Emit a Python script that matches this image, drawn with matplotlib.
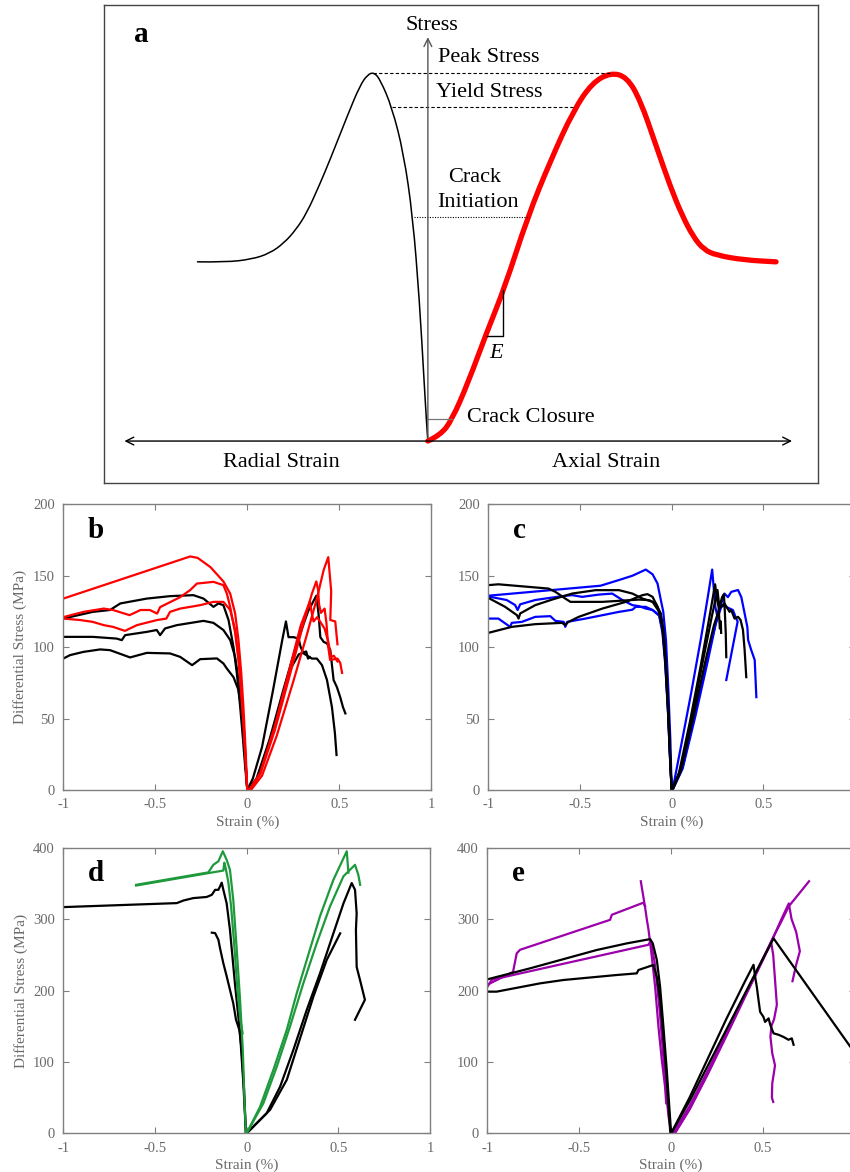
import numpy as np
import matplotlib
matplotlib.use("Agg")
import matplotlib.pyplot as plt
from matplotlib.path import Path
from matplotlib.patches import PathPatch

plt.rcParams['font.family'] = ['Liberation Serif', 'DejaVu Serif']
plt.rcParams['axes.unicode_minus'] = False

# ---- schematic (a): arbitrary strain / stress units, peak stress = 100
sk_radial = [(-62.6, 48.7), (-55.0, 48.6), (-47.9, 49.4), (-43.0, 51.0), (-39.1, 53.8),
             (-35.8, 57.5), (-32.9, 62.0), (-29.5, 69.5), (-26.6, 76.4), (-21.6, 89.1),
             (-18.5, 96.5), (-16.4, 99.6), (-14.6, 100.2), (-12.9, 98.1), (-9.8, 90.8),
             (-6.6, 78.3), (-4.1, 60.9), (-2.3, 38.3), (-1.0, 15.8), (-0.3, 4.0), (0.0, 0.0)]
sk_axial = [(0.0, 0.0), (3.4, 1.6), (6.5, 5.7), (10.9, 15.8), (15.9, 29.3), (20.9, 41.8),
            (27.1, 60.9), (33.4, 76.4), (39.6, 89.9), (44.6, 97.3), (49.6, 100.1),
            (54.0, 99.0), (57.7, 92.7), (62.1, 80.0), (65.9, 69.1), (69.0, 61.5),
            (72.1, 55.5), (75.0, 52.0), (78.4, 50.5), (85.9, 49.2), (94.6, 48.7)]
peak_stress = 100.0
yield_stress = 90.8
crack_init = 60.9
crack_closure = 6.0

# ---- (b) red / black specimens: (strain %, differential stress MPa)
b_red1_rad = [(-1.0, 134), (-0.31, 163.5), (-0.27, 162.5), (-0.20, 156), (-0.13, 146),
              (-0.093, 137.5), (-0.066, 123.5), (-0.048, 105), (-0.033, 82), (-0.021, 58),
              (-0.010, 30), (0, 0)]
b_red2_rad = [(-1.0, 121), (-0.89, 124.7), (-0.78, 127), (-0.73, 126), (-0.64, 122.4),
              (-0.58, 126), (-0.53, 126), (-0.49, 123.5), (-0.474, 128), (-0.365, 135),
              (-0.31, 140), (-0.274, 144.5), (-0.184, 145.7), (-0.13, 143.4), (-0.111, 137.5),
              (-0.093, 128), (-0.066, 110), (-0.048, 91), (-0.033, 68), (-0.02, 45),
              (-0.009, 20), (0, 0)]
b_red3_rad = [(-1.0, 120), (-0.91, 119), (-0.84, 117.7), (-0.78, 115.4), (-0.73, 114.2),
              (-0.665, 111.4), (-0.60, 115.4), (-0.49, 119), (-0.44, 120), (-0.42, 124.7),
              (-0.365, 127), (-0.256, 129.4), (-0.184, 131.7), (-0.13, 131.7), (-0.093, 126),
              (-0.066, 112), (-0.048, 93), (-0.033, 70), (-0.02, 46), (-0.009, 20), (0, 0)]
b_blk1_rad = [(-1.0, 120), (-0.84, 124.7), (-0.746, 126), (-0.69, 130.6), (-0.546, 134),
              (-0.42, 135.7), (-0.293, 136.4), (-0.238, 134), (-0.184, 128.2), (-0.157, 130.6),
              (-0.13, 129.4), (-0.102, 119), (-0.075, 100), (-0.057, 82), (-0.04, 60),
              (-0.025, 38), (-0.012, 17), (0, 0)]
b_blk2_rad = [(-1.0, 107.2), (-0.84, 107.2), (-0.71, 106), (-0.682, 104.9), (-0.664, 108.4),
              (-0.546, 110.7), (-0.492, 112), (-0.474, 108.4), (-0.447, 113.1), (-0.383, 115.4),
              (-0.238, 118.4), (-0.184, 117), (-0.13, 112), (-0.093, 105), (-0.066, 93),
              (-0.048, 77), (-0.033, 58), (-0.02, 38), (-0.009, 17), (0, 0)]
b_blk3_rad = [(-1.0, 92), (-0.964, 94.4), (-0.89, 96.7), (-0.80, 98.4), (-0.746, 97.9),
              (-0.637, 92.8), (-0.546, 96), (-0.42, 95.6), (-0.365, 93.2), (-0.30, 87.4),
              (-0.256, 91.6), (-0.165, 92.1), (-0.13, 88.6), (-0.111, 85), (-0.075, 79),
              (-0.048, 70), (-0.03, 54), (-0.017, 35), (-0.006, 12), (0, 0)]
b_red1_ax = [(0.02, 0), (0.08, 10), (0.16, 38), (0.25, 76), (0.32, 107), (0.38, 135),
             (0.415, 154), (0.44, 163), (0.456, 139), (0.451, 119), (0.478, 118), (0.49, 102)]
b_red2_ax = [(0.01, 0), (0.07, 11), (0.15, 42), (0.23, 80), (0.30, 114), (0.35, 137),
             (0.375, 146), (0.385, 140), (0.39, 130), (0.40, 124), (0.42, 127), (0.43, 117),
             (0.44, 100), (0.45, 91), (0.49, 92), (0.505, 89), (0.515, 82)]
b_red3_ax = [(0.01, 0), (0.07, 12), (0.15, 45), (0.23, 85), (0.29, 115), (0.34, 132),
             (0.35, 124), (0.36, 118), (0.38, 121), (0.40, 117), (0.42, 113), (0.44, 104),
             (0.455, 93), (0.47, 94), (0.49, 90)]
b_blk1_ax = [(0, 0), (0.05, 8), (0.12, 35), (0.20, 72), (0.27, 103), (0.33, 125), (0.375, 136),
             (0.387, 123.5), (0.397, 107), (0.415, 103.7), (0.433, 102.6), (0.451, 98),
             (0.469, 77), (0.487, 72), (0.505, 65), (0.52, 58), (0.533, 53.6)]
b_blk2_ax = [(0, 0), (0.03, 8), (0.08, 30), (0.14, 70), (0.19, 105), (0.21, 118), (0.224, 107),
             (0.251, 107), (0.279, 106), (0.29, 100), (0.306, 95.6), (0.351, 92), (0.378, 92),
             (0.406, 87.4), (0.433, 77), (0.46, 58), (0.476, 40), (0.485, 24.5)]
b_blk3_ax = [(0, 0), (0.05, 7), (0.12, 32), (0.20, 68), (0.24, 86), (0.28, 95), (0.32, 97),
             (0.33, 92), (0.34, 93)]

# ---- (c) blue / black specimens
c_blu1_rad = [(-1.0, 136), (-0.388, 143), (-0.287, 147), (-0.214, 150), (-0.141, 154.3),
              (-0.104, 151), (-0.077, 144.5), (-0.059, 133), (-0.046, 125), (-0.031, 105),
              (-0.018, 70), (-0.007, 35), (0, 0)]
c_blu2_rad = [(-1.0, 135.5), (-0.90, 133), (-0.854, 129.5), (-0.84, 126), (-0.826, 130),
              (-0.744, 133), (-0.598, 135.7), (-0.543, 136.4), (-0.488, 135.2), (-0.397, 136.8),
              (-0.324, 137.5), (-0.269, 133), (-0.214, 129.4), (-0.178, 128.7), (-0.141, 127),
              (-0.104, 126), (-0.068, 122.4), (-0.05, 112), (-0.035, 90), (-0.02, 55),
              (-0.008, 20), (0, 0)]
c_blu3_rad = [(-1.0, 120), (-0.945, 120), (-0.881, 114.2), (-0.872, 117), (-0.817, 117.7),
              (-0.744, 121.2), (-0.662, 121.7), (-0.634, 118.4), (-0.589, 117.7), (-0.58, 114.2),
              (-0.57, 117.7), (-0.47, 120), (-0.287, 124.7), (-0.214, 126.2), (-0.196, 128.2),
              (-0.141, 128.2), (-0.104, 126), (-0.068, 122), (-0.05, 110), (-0.035, 88),
              (-0.02, 55), (-0.008, 20), (0, 0)]
c_blk1_rad = [(-1.0, 143.4), (-0.945, 144), (-0.671, 141), (-0.634, 138.7), (-0.58, 134),
              (-0.552, 131.7), (-0.378, 131.7), (-0.178, 133.3), (-0.123, 132.9), (-0.086, 130.6),
              (-0.059, 123.6), (-0.045, 112), (-0.032, 90), (-0.018, 55), (-0.007, 20), (0, 0)]
c_blk2_rad = [(-1.0, 134.5), (-0.908, 128.2), (-0.844, 122.4), (-0.835, 120), (-0.826, 123.6),
              (-0.744, 129.4), (-0.652, 133.3), (-0.543, 137.5), (-0.415, 139.9), (-0.287, 139.9),
              (-0.214, 137.5), (-0.159, 134), (-0.104, 131.7), (-0.068, 124.7), (-0.05, 114),
              (-0.035, 92), (-0.02, 56), (-0.008, 20), (0, 0)]
c_blk3_rad = [(-1.0, 110), (-0.872, 114.2), (-0.744, 116.1), (-0.598, 117), (-0.58, 115.5),
              (-0.565, 117.5), (-0.507, 121.2), (-0.378, 127), (-0.25, 131.7), (-0.159, 136.4),
              (-0.132, 137.1), (-0.104, 135.2), (-0.077, 128.2), (-0.058, 120), (-0.045, 108),
              (-0.032, 88), (-0.018, 55), (-0.007, 20), (0, 0)]
c_blu1_ax = [(0.005, 0), (0.05, 30), (0.106, 67.6), (0.161, 107), (0.197, 135), (0.221, 154.3),
             (0.238, 128.4), (0.252, 120)]
c_blu2_ax = [(0.005, 0), (0.06, 16), (0.13, 55), (0.20, 95), (0.25, 122), (0.288, 137.5),
             (0.307, 135), (0.325, 138.7), (0.362, 140), (0.38, 135), (0.398, 123.6),
             (0.413, 114), (0.417, 105), (0.434, 98), (0.453, 91), (0.462, 65)]
c_blu3_ax = [(0.005, 0), (0.06, 15), (0.13, 52), (0.20, 92), (0.24, 116), (0.27, 128),
             (0.288, 129.4), (0.30, 128), (0.334, 126), (0.352, 120), (0.36, 118), (0.298, 77)]
c_blk1_ax = [(0.003, 0), (0.04, 12), (0.10, 48), (0.16, 88), (0.21, 124), (0.237, 144),
             (0.248, 133), (0.256, 128), (0.263, 113), (0.268, 118), (0.27, 110)]
c_blk2_ax = [(0.003, 0), (0.05, 15), (0.11, 50), (0.17, 90), (0.22, 122), (0.25, 140),
             (0.26, 128), (0.275, 135), (0.285, 137), (0.29, 125), (0.295, 110), (0.298, 93)]
c_blk3_ax = [(0.003, 0), (0.05, 13), (0.12, 52), (0.18, 88), (0.23, 115), (0.26, 127),
             (0.288, 130.6), (0.316, 124.7), (0.325, 126), (0.343, 120), (0.362, 121.2),
             (0.376, 119), (0.389, 112), (0.398, 98), (0.407, 79)]

# ---- (d) green / black specimens
d_grn1_rad = [(-0.603, 348), (-0.209, 365.4), (-0.182, 376), (-0.154, 381), (-0.13, 395),
              (-0.109, 383), (-0.091, 369), (-0.073, 327), (-0.054, 257), (-0.036, 187),
              (-0.021, 117), (-0.012, 47), (-0.004, 0)]
d_grn2_rad = [(-0.603, 347), (-0.127, 368), (-0.122, 379), (-0.115, 372), (-0.10, 352),
              (-0.085, 318), (-0.068, 265), (-0.05, 200), (-0.035, 160), (-0.022, 140)]
d_blk1_rad = [(-1.0, 316.8), (-0.381, 322.4), (-0.345, 326), (-0.291, 329.4), (-0.218, 331),
              (-0.19, 334), (-0.172, 341), (-0.154, 341), (-0.136, 351), (-0.127, 341),
              (-0.109, 322), (-0.091, 285), (-0.064, 210), (-0.036, 140), (-0.018, 70),
              (-0.004, 0)]
d_blk2_rad = [(-0.19, 281), (-0.172, 280.4), (-0.154, 271), (-0.145, 259), (-0.127, 238),
              (-0.109, 220), (-0.091, 201), (-0.073, 182), (-0.058, 159), (-0.04, 145),
              (-0.027, 117), (-0.014, 61), (-0.004, 0)]
d_grn1_ax = [(0, 0), (0.073, 37), (0.146, 89), (0.219, 145), (0.273, 196), (0.328, 243),
             (0.40, 304), (0.473, 355), (0.546, 395), (0.555, 365)]
d_grn2_ax = [(0, 0), (0.091, 42), (0.164, 93), (0.237, 150), (0.309, 210), (0.382, 266),
             (0.455, 318), (0.528, 360), (0.591, 376), (0.609, 362), (0.619, 348)]
d_blk1_ax = [(0, 0), (0.109, 28), (0.182, 65), (0.255, 117), (0.328, 173), (0.40, 224),
             (0.473, 280), (0.528, 322), (0.573, 350.5), (0.591, 341), (0.60, 308),
             (0.596, 285), (0.60, 233), (0.618, 215), (0.645, 187), (0.618, 173), (0.591, 159)]
d_blk2_ax = [(0, 0), (0.128, 33), (0.219, 75), (0.30, 140), (0.364, 191.5), (0.437, 243),
             (0.51, 280)]

# ---- (e) purple / black specimens
e_mag1_rad = [(-1.0, 208), (-0.86, 226), (-0.84, 252), (-0.822, 257), (-0.332, 299),
              (-0.323, 306), (-0.151, 323), (-0.142, 318)]
e_mag_tail = [(-0.165, 353), (-0.16, 345), (-0.142, 317), (-0.132, 299), (-0.123, 285),
              (-0.105, 247), (-0.087, 205), (-0.069, 149), (-0.051, 103), (-0.033, 65),
              (-0.027, 42)]
e_mag2_rad = [(-1.0, 205), (-0.976, 215), (-0.124, 264), (-0.114, 268), (-0.105, 261),
              (-0.09, 240), (-0.075, 205), (-0.06, 165), (-0.045, 115), (-0.03, 65),
              (-0.015, 25), (0, 0)]
e_blk1_rad = [(-1.0, 215.6), (-0.768, 231), (-0.405, 256.7), (-0.241, 266), (-0.114, 272),
              (-0.1, 266), (-0.078, 243), (-0.06, 205), (-0.042, 149), (-0.024, 89),
              (-0.009, 33), (0, 0)]
e_blk2_rad = [(-1.0, 198.4), (-0.949, 198.4), (-0.713, 210), (-0.586, 214.7), (-0.296, 221.7),
              (-0.187, 224), (-0.178, 228.7), (-0.097, 235.7), (-0.078, 219), (-0.06, 187),
              (-0.042, 135), (-0.024, 75), (-0.005, 2)]
e_blk1_ax = [(0, 0), (0.1, 50), (0.2, 105), (0.3, 160), (0.4, 212), (0.448, 236), (0.457, 219),
             (0.466, 205), (0.475, 187), (0.484, 170), (0.502, 163), (0.511, 156), (0.53, 161),
             (0.539, 152), (0.557, 140), (0.584, 138), (0.611, 135), (0.638, 131), (0.656, 133),
             (0.666, 124)]
e_blk2_ax = [(0, 0), (0.1, 45), (0.2, 95), (0.3, 145), (0.4, 195), (0.5, 245), (0.557, 273),
             (1.0, 112)]
e_mag1_ax = [(0.01, 0), (0.1, 38), (0.2, 88), (0.3, 140), (0.4, 193), (0.5, 245), (0.55, 272),
             (0.6, 297), (0.64, 318), (0.7, 337), (0.75, 353)]
e_mag2_ax = [(0.02, 0), (0.1, 33), (0.2, 83), (0.3, 136), (0.4, 190), (0.5, 243), (0.56, 277),
             (0.6, 300), (0.64, 322), (0.655, 300), (0.68, 282), (0.70, 255), (0.68, 236),
             (0.66, 213)]
e_mag3_ax = [(0.02, 0), (0.1, 35), (0.2, 86), (0.3, 138), (0.4, 192), (0.5, 245), (0.545, 266),
             (0.555, 250), (0.565, 215), (0.575, 180), (0.56, 160), (0.545, 150), (0.54, 135),
             (0.55, 112), (0.565, 95), (0.55, 70), (0.548, 50), (0.555, 44)]

strain_ticks = [-1, -0.5, 0, 0.5, 1]
strain_labels = ['-1', '-0.5', '0', '0.5', '1']

RED, BLUE, GREEN, PURPLE = '#ff0000', '#0000ff', '#1e9a3c', '#9b00aa'

W, H = 850, 1172
fig = plt.figure(figsize=(W / 100, H / 100), dpi=100)


def px_axes(x0, y0, x1, y1):
    return fig.add_axes([x0 / W, 1 - y1 / H, (x1 - x0) / W, (y1 - y0) / H])


def draw(ax, curve, color, lw=1.6):
    xy = np.array(curve, dtype=float)
    ax.plot(xy[:, 0], xy[:, 1], color=color, lw=lw, solid_joinstyle='round')


def smooth_path(points):
    # quadratic bezier chain through the midpoints, the listed points act as controls
    p = np.array(points, dtype=float)
    verts = [p[0]]
    codes = [Path.MOVETO]
    for i in range(1, len(p) - 1):
        mid = (p[i] + p[i + 1]) / 2
        verts += [p[i], mid]
        codes += [Path.CURVE3, Path.CURVE3]
    verts.append(p[-1])
    codes.append(Path.LINETO)
    return Path(verts, codes)


# ---------------- panel a: schematic
ax = px_axes(104, 5, 818, 483)
ax.set_xlim(-88.0, 106.0)
ax.set_ylim(-11.4, 118.5)
ax.set_xticks([])
ax.set_yticks([])
for s in ax.spines.values():
    s.set_color('#444444')
    s.set_linewidth(1.0)

ax.annotate('', xy=(-83.2, 0), xytext=(99.7, 0),
            arrowprops=dict(arrowstyle='<->', color='k', lw=1.0, mutation_scale=14))
ax.annotate('', xy=(0, 110.5), xytext=(0, 0),
            arrowprops=dict(arrowstyle='->', color='#555555', lw=1.0, mutation_scale=14))

ax.add_patch(PathPatch(smooth_path(sk_radial), fill=False, edgecolor='k', lw=1.1,
                       capstyle='round'))
ax.add_patch(PathPatch(smooth_path(sk_axial), fill=False, edgecolor=RED, lw=3.8,
                       capstyle='round', joinstyle='round'))

ax.plot([-15.0, 50.0], [peak_stress, peak_stress], color='k', lw=0.8, ls=(0, (3, 2)))
ax.plot([-9.8, 39.6], [yield_stress, yield_stress], color='k', lw=0.8, ls=(0, (3, 2)))
ax.plot([-3.9, 27.1], [crack_init, crack_init], color='k', lw=0.8, ls=(0, (1, 1.3)))
ax.plot([0, 6.5], [crack_closure, crack_closure], color='#777777', lw=0.9)
ax.plot([20.5, 20.5, 16.1], [41.0, 28.5, 28.5], color='k', lw=1.0)

fs = 16
ax.text(1.2, 113.0, 'Stress', fontsize=fs, ha='center', va='center')
ax.text(2.7, 104.1, 'Peak Stress', fontsize=fs, ha='left', va='center')
ax.text(2.2, 94.6, 'Yield Stress', fontsize=fs, ha='left', va='center')
ax.text(12.8, 71.7, 'Crack', fontsize=fs, ha='center', va='center')
ax.text(13.6, 64.9, 'Initiation', fontsize=fs, ha='center', va='center')
ax.text(10.5, 6.5, 'Crack Closure', fontsize=fs, ha='left', va='center')
ax.text(18.6, 23.9, 'E', fontsize=fs, ha='center', va='center', style='italic')
ax.text(-39.8, -5.7, 'Radial Strain', fontsize=fs, ha='center', va='center')
ax.text(48.4, -5.7, 'Axial Strain', fontsize=fs, ha='center', va='center')
ax.text(-79.8, 108.4, 'a', fontsize=21, fontweight='bold', ha='left', va='baseline')


# ---------------- panels b-e: measured curves
def style_panel(ax, ymax, ystep, letter, ylabel, last_label=True):
    ax.set_xlim(-1, 1)
    ax.set_ylim(0, ymax)
    ax.set_xticks(strain_ticks)
    labels = list(strain_labels)
    if not last_label:
        labels[-1] = ''  # falls outside the page on the right-hand panels
    ax.set_xticklabels(labels)
    ax.set_yticks(np.arange(0, ymax + 1, ystep))
    ax.tick_params(direction='in', top=True, right=True, length=4, width=0.8,
                   color='#808080', labelcolor='#6a6a6a', labelsize=10.5, pad=6)
    for s in ax.spines.values():
        s.set_color('#808080')
        s.set_linewidth(1.0)
    ax.set_xlabel('Strain (%)', fontsize=11, color='#6a6a6a', labelpad=3)
    if ylabel:
        ax.set_ylabel('Differential Stress (MPa)', fontsize=11, color='#6a6a6a', labelpad=4)
    ax.text(0.066, 0.882, letter, transform=ax.transAxes, fontsize=21,
            fontweight='bold', ha='left', va='baseline')


ax_b = px_axes(63.3, 504.3, 431.3, 790)
for c in [b_blk1_rad, b_blk2_rad, b_blk3_rad, b_blk1_ax, b_blk2_ax, b_blk3_ax]:
    draw(ax_b, c, 'k')
for c in [b_red1_rad, b_red2_rad, b_red3_rad, b_red1_ax, b_red2_ax, b_red3_ax]:
    draw(ax_b, c, RED)
style_panel(ax_b, 200, 50, 'b', True)

ax_c = px_axes(488.3, 504.3, 855.0, 790)
for c in [c_blu1_rad, c_blu2_rad, c_blu3_rad, c_blu1_ax, c_blu2_ax, c_blu3_ax]:
    draw(ax_c, c, BLUE)
for c in [c_blk1_rad, c_blk2_rad, c_blk3_rad, c_blk1_ax, c_blk2_ax, c_blk3_ax]:
    draw(ax_c, c, 'k')
style_panel(ax_c, 200, 50, 'c', False, last_label=False)

ax_d = px_axes(63.3, 847.7, 430.0, 1133.3)
for c in [d_blk1_rad, d_blk2_rad, d_blk1_ax, d_blk2_ax]:
    draw(ax_d, c, 'k')
for c in [d_grn1_rad, d_grn2_rad, d_grn1_ax, d_grn2_ax]:
    draw(ax_d, c, GREEN)
style_panel(ax_d, 400, 100, 'd', True)

ax_e = px_axes(487.3, 847.7, 855.0, 1133.3)
for c in [e_mag1_rad, e_mag_tail, e_mag2_rad, e_mag1_ax, e_mag2_ax, e_mag3_ax]:
    draw(ax_e, c, PURPLE)
for c in [e_blk1_rad, e_blk2_rad, e_blk1_ax, e_blk2_ax]:
    draw(ax_e, c, 'k')
style_panel(ax_e, 400, 100, 'e', False, last_label=False)

fig.savefig('out.png', dpi=100)
